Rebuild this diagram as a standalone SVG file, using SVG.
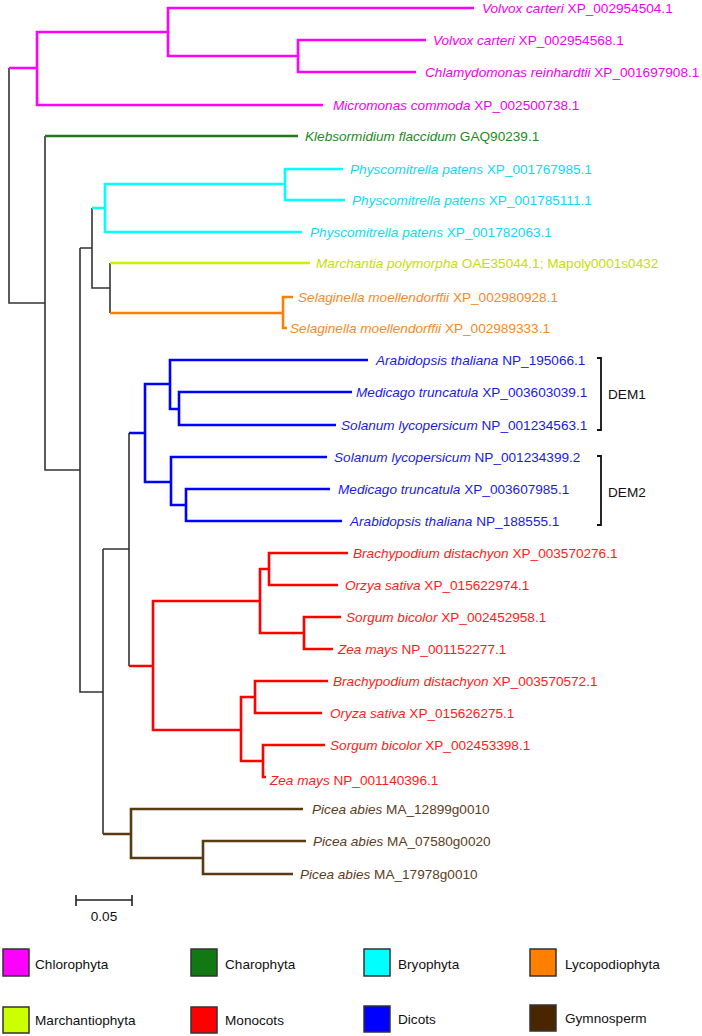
<svg xmlns="http://www.w3.org/2000/svg" width="702" height="1036" viewBox="0 0 702 1036">
<style>
text{font-family:"Liberation Sans",Arial,sans-serif;font-size:13.6px}
.i{font-style:italic}
path{fill:none;stroke-linejoin:miter;stroke-linecap:butt}
.k{stroke:#333;stroke-width:1.6}
.cm{stroke:#ff00ff;stroke-width:2.6}
.cg{stroke:#1f7a1f;stroke-width:2.6}
.cc{stroke:#00ffff;stroke-width:2.6}
.cy{stroke:#ccf000;stroke-width:2.6}
.co{stroke:#ff8000;stroke-width:2.6}
.cb{stroke:#0000ff;stroke-width:2.6}
.cr{stroke:#ff0000;stroke-width:2.6}
.cn{stroke:#5a3a10;stroke-width:2.6}
.tm{fill:#f000f0}.tg{fill:#228b22}.tc{fill:#10d8f8}.ty{fill:#c4e000}.to{fill:#f58a1f}
.tb{fill:#1a1ae6}.tr{fill:#ff1a1a}.tn{fill:#5c3d1e}.tk{fill:#111}
.sw{stroke:#333;stroke-width:1.5}
</style>
<g id="connectors">
<path class="k" d="M9,68 V303 H45 M45,136 V470 H80 M80,248 V692 H103 M80,248 H92 M92,208 V288 H110 M110,263 V313 M103,549 V834 M103,549 H129 M129,433 V666"/>
<path class="cm" d="M9,68 H37 M474,8 H168 V56 H298 M426,40 H298 V72 H416 M168,32 H37 V105 H323"/>
<path class="cg" d="M45,136 H298"/>
<path class="cc" d="M92,208 H105 M343,169 H285 V200 H345 M285,184 H105 V232 H302"/>
<path class="cy" d="M110,263 H310"/>
<path class="co" d="M110,313 H283 M293,297 H283 V328 H287"/>
<path class="cb" d="M129,433 H145 M368,360 H170 V409 H179 M352,392 H179 V425 H336 M170,384 H145 V482 H171 M327,457 H171 V505 H186 M330,489 H186 V521 H342"/>
<path class="cr" d="M129,666 H153 M260,601 H153 V730 H241 M269,569 H260 V633 H304 M348,553 H269 V585 H338 M341,617 H304 V649 H333 M255,697 H241 V761 H263 M328,681 H255 V713 H322 M325,745 H263 V777 H266"/>
<path class="cn" d="M103,834 H131 M303,809 H131 V858 H203 M306,841 H203 V874 H293"/>
</g>
<g id="leaf-volvox1"><text class="tm" x="482" y="13"><tspan class="i">Volvox carteri</tspan> XP_002954504.1</text></g>
<g id="leaf-volvox2"><text class="tm" x="433" y="45"><tspan class="i">Volvox carteri</tspan> XP_002954568.1</text></g>
<g id="leaf-chlamy"><text class="tm" x="425" y="77"><tspan class="i">Chlamydomonas reinhardtii</tspan> XP_001697908.1</text></g>
<g id="leaf-micromonas"><text class="tm" x="333" y="110"><tspan class="i">Micromonas commoda</tspan> XP_002500738.1</text></g>
<g id="leaf-klebs"><text class="tg" x="305" y="141"><tspan class="i">Klebsormidium flaccidum</tspan> GAQ90239.1</text></g>
<g id="leaf-physco1"><text class="tc" x="350" y="174"><tspan class="i">Physcomitrella patens</tspan> XP_001767985.1</text></g>
<g id="leaf-physco2"><text class="tc" x="352" y="205"><tspan class="i">Physcomitrella patens</tspan> XP_001785111.1</text></g>
<g id="leaf-physco3"><text class="tc" x="310" y="237"><tspan class="i">Physcomitrella patens</tspan> XP_001782063.1</text></g>
<g id="leaf-marchantia"><text class="ty" x="316" y="268"><tspan class="i">Marchantia polymorpha</tspan> OAE35044.1; Mapoly0001s0432</text></g>
<g id="leaf-selag1"><text class="to" x="298" y="302"><tspan class="i">Selaginella moellendorffii</tspan> XP_002980928.1</text></g>
<g id="leaf-selag2"><text class="to" x="290" y="333"><tspan class="i">Selaginella moellendorffii</tspan> XP_002989333.1</text></g>
<g id="leaf-arab1"><text class="tb" x="376" y="365"><tspan class="i">Arabidopsis thaliana</tspan> NP_195066.1</text></g>
<g id="leaf-medic1"><text class="tb" x="356" y="397"><tspan class="i">Medicago truncatula</tspan> XP_003603039.1</text></g>
<g id="leaf-solan1"><text class="tb" x="341" y="430"><tspan class="i">Solanum lycopersicum</tspan> NP_001234563.1</text></g>
<g id="leaf-solan2"><text class="tb" x="334" y="462"><tspan class="i">Solanum lycopersicum</tspan> NP_001234399.2</text></g>
<g id="leaf-medic2"><text class="tb" x="338" y="494"><tspan class="i">Medicago truncatula</tspan> XP_003607985.1</text></g>
<g id="leaf-arab2"><text class="tb" x="350" y="526"><tspan class="i">Arabidopsis thaliana</tspan> NP_188555.1</text></g>
<g id="leaf-brachy1"><text class="tr" x="353" y="558"><tspan class="i">Brachypodium distachyon</tspan> XP_003570276.1</text></g>
<g id="leaf-oryza1"><text class="tr" x="345" y="590"><tspan class="i">Orzya sativa</tspan> XP_015622974.1</text></g>
<g id="leaf-sorg1"><text class="tr" x="346" y="622"><tspan class="i">Sorgum bicolor</tspan> XP_002452958.1</text></g>
<g id="leaf-zea1"><text class="tr" x="338" y="654"><tspan class="i">Zea mays</tspan> NP_001152277.1</text></g>
<g id="leaf-brachy2"><text class="tr" x="333" y="686"><tspan class="i">Brachypodium distachyon</tspan> XP_003570572.1</text></g>
<g id="leaf-oryza2"><text class="tr" x="330" y="718"><tspan class="i">Oryza sativa</tspan> XP_015626275.1</text></g>
<g id="leaf-sorg2"><text class="tr" x="330" y="750"><tspan class="i">Sorgum bicolor</tspan> XP_002453398.1</text></g>
<g id="leaf-zea2"><text class="tr" x="270" y="785"><tspan class="i">Zea mays</tspan> NP_001140396.1</text></g>
<g id="leaf-picea1"><text class="tn" x="312" y="814"><tspan class="i">Picea abies</tspan> MA_12899g0010</text></g>
<g id="leaf-picea2"><text class="tn" x="313" y="846"><tspan class="i">Picea abies</tspan> MA_07580g0020</text></g>
<g id="leaf-picea3"><text class="tn" x="300" y="879"><tspan class="i">Picea abies</tspan> MA_17978g0010</text></g>
<g id="dem1"><path class="k" style="stroke:#111;stroke-width:1.8" d="M597,358 H601 V430 H597"/><text class="tk" x="608" y="399">DEM1</text></g>
<g id="dem2"><path class="k" style="stroke:#111;stroke-width:1.8" d="M597,456 H601 V525 H597"/><text class="tk" x="608" y="497">DEM2</text></g>
<g id="scalebar"><path class="k" style="stroke:#222" d="M76,900 H132 M76,895 V906 M132,895 V906"/><text class="tk" x="104" y="921" text-anchor="middle">0.05</text></g>
<g id="legend-chlorophyta"><rect class="sw" x="3" y="949" width="26" height="27" fill="#ff00ff"/><text class="tk" x="35" y="969">Chlorophyta</text></g>
<g id="legend-charophyta"><rect class="sw" x="191" y="949" width="26" height="27" fill="#127812"/><text class="tk" x="225" y="969">Charophyta</text></g>
<g id="legend-bryophyta"><rect class="sw" x="364" y="949" width="26" height="27" fill="#00ffff"/><text class="tk" x="398" y="969">Bryophyta</text></g>
<g id="legend-lycopodiophyta"><rect class="sw" x="530" y="949" width="26" height="27" fill="#ff8000"/><text class="tk" x="565" y="969">Lycopodiophyta</text></g>
<g id="legend-marchantiophyta"><rect class="sw" x="3" y="1007" width="26" height="26" fill="#ccff00"/><text class="tk" x="35" y="1025">Marchantiophyta</text></g>
<g id="legend-monocots"><rect class="sw" x="191" y="1007" width="26" height="26" fill="#ff0000"/><text class="tk" x="225" y="1025">Monocots</text></g>
<g id="legend-dicots"><rect class="sw" x="364" y="1006" width="26" height="26" fill="#0000ff"/><text class="tk" x="398" y="1024">Dicots</text></g>
<g id="legend-gymnosperm"><rect class="sw" x="530" y="1005" width="26" height="26" fill="#4a2600"/><text class="tk" x="565" y="1023">Gymnosperm</text></g>
</svg>
